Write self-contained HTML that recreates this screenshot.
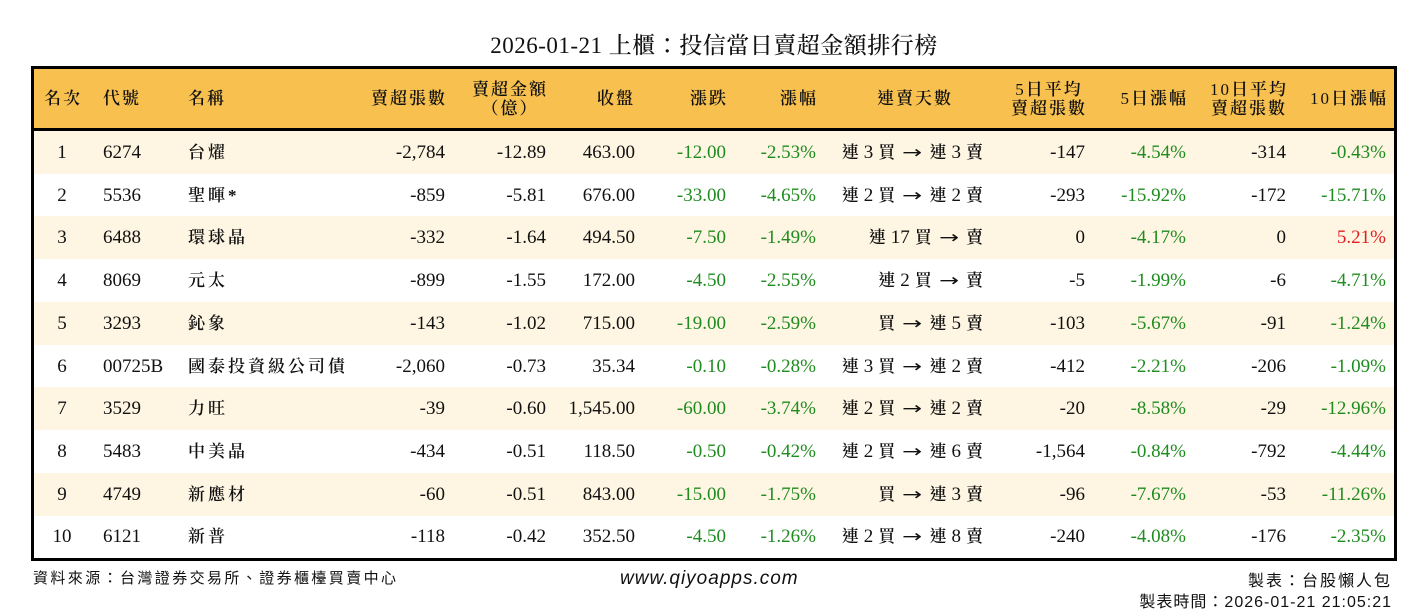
<!DOCTYPE html>
<html><head><meta charset="utf-8"><style>
body{margin:0;width:1428px;height:612px;background:#fff;position:relative;overflow:hidden;font-family:"Liberation Serif","Noto Serif CJK TC","Noto Serif CJK SC",serif;color:#111}
.t{position:absolute;top:27px;left:0;width:1428px;text-align:center;font-size:23px;letter-spacing:0.5px;font-weight:500}
.box{position:absolute;left:31px;top:66px;width:1360px;height:489px;border:3px solid #000;overflow:hidden}
.r{position:absolute;left:-34px;width:1428px;height:43px;line-height:43px;font-size:19px}
.h{top:0;height:59px;background:#F8C14F;border-bottom:3px solid #000;font-size:17px;letter-spacing:2px;line-height:19px}
.h .c{top:11px}.h .s{top:20px}
.h b{font-weight:600}
.c,.s{position:absolute;white-space:nowrap}
.o{background:#FEF5E2}
.g{color:#1E8C1E}.red{color:#E02020}
.cj{font-size:17px;letter-spacing:3px;font-weight:600}
.k{font-size:17px;font-weight:600}
.sp{display:inline-block;width:5px}
.ar{font-family:"DejaVu Sans";font-size:17px;display:inline-block;transform:scaleX(1.4);margin:0 5px}
.f{position:absolute;font-family:"Liberation Sans","Noto Sans CJK TC",sans-serif;font-size:15px;letter-spacing:2.4px}
</style></head><body>
<div class="t">2026-01-21 上櫃：投信當日賣超金額排行榜</div>
<div class="box">
<div class="r h">
<span class="s" style="left:44px"><b>名次</b></span>
<span class="s" style="left:103px"><b>代號</b></span>
<span class="s" style="left:188px"><b>名稱</b></span>
<span class="s" style="right:981px"><b>賣超張數</b></span>
<span class="c" style="right:880px;text-align:center"><b>賣超金額<br>（億）</b></span>
<span class="s" style="right:793px"><b>收盤</b></span>
<span class="s" style="right:700px"><b>漲跌</b></span>
<span class="s" style="right:610px"><b>漲幅</b></span>
<span class="s" style="right:475px"><b>連賣天數</b></span>
<span class="c" style="right:341px;text-align:center">5<b>日平均<br>賣超張數</b></span>
<span class="s" style="right:240px">5<b>日漲幅</b></span>
<span class="c" style="right:140px;text-align:center">10<b>日平均<br>賣超張數</b></span>
<span class="s" style="right:40px">10<b>日漲幅</b></span>
</div>
<div id="rows"></div>
</div>
<div class="f" style="left:33px;top:567px">資料來源：台灣證券交易所、證券櫃檯買賣中心</div>
<div class="f" style="left:620px;top:568px;font-size:19px;font-style:italic;letter-spacing:1px">www.qiyoapps.com</div>
<div class="f" style="right:36px;top:567px;font-size:16px;letter-spacing:2px">製表：台股懶人包</div>
<div class="f" style="right:36px;top:588px;font-size:16px;letter-spacing:1px">製表時間：2026-01-21 21:05:21</div>
<script>
var d=[
["1","6274","台燿","-2,784","-12.89","463.00","-12.00","-2.53%","連 3 買 → 連 3 賣","-147","-4.54%","-314","-0.43%"],
["2","5536","聖暉*","-859","-5.81","676.00","-33.00","-4.65%","連 2 買 → 連 2 賣","-293","-15.92%","-172","-15.71%"],
["3","6488","環球晶","-332","-1.64","494.50","-7.50","-1.49%","連 17 買 → 賣","0","-4.17%","0","5.21%"],
["4","8069","元太","-899","-1.55","172.00","-4.50","-2.55%","連 2 買 → 賣","-5","-1.99%","-6","-4.71%"],
["5","3293","鈊象","-143","-1.02","715.00","-19.00","-2.59%","買 → 連 5 賣","-103","-5.67%","-91","-1.24%"],
["6","00725B","國泰投資級公司債","-2,060","-0.73","35.34","-0.10","-0.28%","連 3 買 → 連 2 賣","-412","-2.21%","-206","-1.09%"],
["7","3529","力旺","-39","-0.60","1,545.00","-60.00","-3.74%","連 2 買 → 連 2 賣","-20","-8.58%","-29","-12.96%"],
["8","5483","中美晶","-434","-0.51","118.50","-0.50","-0.42%","連 2 買 → 連 6 賣","-1,564","-0.84%","-792","-4.44%"],
["9","4749","新應材","-60","-0.51","843.00","-15.00","-1.75%","買 → 連 3 賣","-96","-7.67%","-53","-11.26%"],
["10","6121","新普","-118","-0.42","352.50","-4.50","-1.26%","連 2 買 → 連 8 賣","-240","-4.08%","-176","-2.35%"]];
var R=[983,882,793,702,612,445,343,242,142,42],h="";
function tok(s){return s.split(' ').map(function(w){
 if(w=='→')return '<span class="ar">→</span>';
 if(/^[連買賣]$/.test(w))return '<span class="k">'+w+'</span>';
 return w;}).join('<span class="sp"></span>');}
d.forEach(function(a,i){
h+='<div class="r'+(i%2==0?' o':'')+'" style="top:'+(62+i*42.7)+'px">';
h+='<span class="c" style="left:34px;width:56px;text-align:center">'+a[0]+'</span>';
h+='<span class="c" style="left:103px">'+a[1]+'</span>';
h+='<span class="c cj" style="left:188px">'+a[2]+'</span>';
for(var k=3;k<13;k++){var cls='c';if(k==6||k==7||k==10||k==12)cls+=(a[k].charAt(0)=='-'?' g':' red');
var t=(k==8)?tok(a[k]):a[k];
h+='<span class="'+cls+'" style="right:'+R[k-3]+'px">'+t+'</span>';}
h+='</div>';});
document.getElementById('rows').innerHTML=h;
</script>
</body></html>
